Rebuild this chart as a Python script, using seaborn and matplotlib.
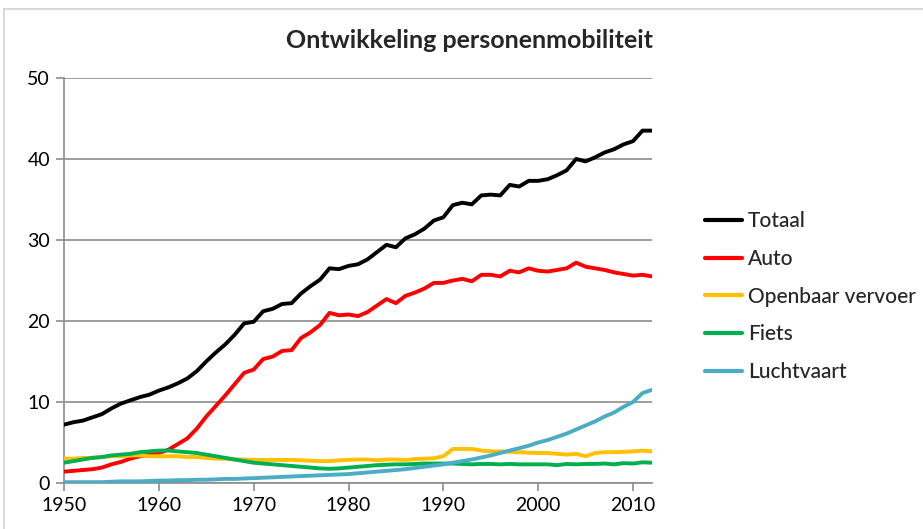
import seaborn as sns
import matplotlib.pyplot as plt
import matplotlib.patches as patches
import numpy as np
import pandas as pd

years = list(range(1950, 2013))

totaal = [7.2, 7.5, 7.7, 8.1, 8.5, 9.2, 9.8, 10.2, 10.6, 10.9,
          11.4, 11.8, 12.3, 12.9, 13.8, 15.0, 16.1, 17.1, 18.3, 19.7,
          19.9, 21.2, 21.5, 22.1, 22.2, 23.4, 24.3, 25.1, 26.5, 26.4,
          26.8, 27.0, 27.6, 28.5, 29.4, 29.1, 30.2, 30.7, 31.4, 32.4,
          32.8, 34.3, 34.6, 34.4, 35.5, 35.6, 35.5, 36.8, 36.6, 37.3,
          37.3, 37.5, 38.0, 38.6, 40.0, 39.7, 40.2, 40.8, 41.2, 41.8,
          42.2, 43.5, 43.5]

auto = [1.4, 1.5, 1.6, 1.7, 1.9, 2.3, 2.6, 3.0, 3.3, 3.5,
        3.7, 4.1, 4.8, 5.5, 6.7, 8.2, 9.5, 10.8, 12.2, 13.6,
        14.0, 15.3, 15.6, 16.3, 16.4, 17.9, 18.6, 19.5, 21.0, 20.7,
        20.8, 20.6, 21.1, 21.9, 22.7, 22.2, 23.1, 23.5, 24.0, 24.7,
        24.7, 25.0, 25.2, 24.9, 25.7, 25.7, 25.5, 26.2, 26.0, 26.5,
        26.2, 26.1, 26.3, 26.5, 27.2, 26.7, 26.5, 26.3, 26.0, 25.8,
        25.6, 25.7, 25.5]

openbaar = [3.0, 3.0, 3.1, 3.1, 3.2, 3.3, 3.3, 3.4, 3.4, 3.3,
            3.3, 3.3, 3.3, 3.2, 3.2, 3.1, 3.0, 3.0, 2.9, 2.9,
            2.85, 2.85, 2.85, 2.85, 2.85, 2.8, 2.75, 2.7, 2.7, 2.8,
            2.85, 2.9, 2.9, 2.8, 2.9, 2.9, 2.85, 2.95, 3.0, 3.05,
            3.3, 4.2, 4.2, 4.2, 4.0, 3.9, 3.9, 3.85, 3.8, 3.75,
            3.7, 3.7, 3.6, 3.5, 3.6, 3.3, 3.7, 3.8, 3.8, 3.85,
            3.9, 4.0, 3.9]

fiets = [2.5, 2.7, 2.9, 3.1, 3.2, 3.4, 3.5, 3.6, 3.8, 3.9,
         4.0, 4.0, 3.9, 3.8, 3.7, 3.5, 3.3, 3.1, 2.9, 2.7,
         2.5, 2.4, 2.3, 2.2, 2.1, 2.0, 1.9, 1.8, 1.75, 1.8,
         1.9, 2.0, 2.1, 2.2, 2.25, 2.3, 2.3, 2.35, 2.4, 2.4,
         2.4, 2.4, 2.35, 2.3, 2.35, 2.35, 2.3, 2.35, 2.3, 2.3,
         2.3, 2.3, 2.2, 2.35, 2.3, 2.35, 2.35, 2.4, 2.3, 2.45,
         2.4, 2.55, 2.5]

luchtvaart = [0.1, 0.1, 0.1, 0.1, 0.1, 0.15, 0.2, 0.2, 0.2, 0.25,
              0.3, 0.3, 0.35, 0.35, 0.4, 0.4, 0.45, 0.5, 0.5, 0.55,
              0.6, 0.65, 0.7, 0.75, 0.8, 0.85, 0.9, 0.95, 1.0, 1.05,
              1.1, 1.2, 1.3, 1.4, 1.5, 1.6, 1.7, 1.85, 2.0, 2.15,
              2.3, 2.5, 2.7, 2.9, 3.15, 3.4, 3.7, 4.0, 4.3, 4.6,
              5.0, 5.3, 5.7, 6.1, 6.6, 7.1, 7.6, 8.2, 8.7, 9.4,
              10.0, 11.1, 11.5]

series = ["Totaal", "Auto", "Openbaar vervoer", "Fiets", "Luchtvaart"]
colors = ["#000000", "#ff0000", "#ffc000", "#00b050", "#4bacc6"]

df = pd.DataFrame({
    "jaar": years * 5,
    "waarde": totaal + auto + openbaar + fiets + luchtvaart,
    "soort": sum([[s] * len(years) for s in series], []),
})

sns.set_style("white")
plt.rcParams['font.family'] = ['Lato', 'DejaVu Sans']

fig = plt.figure(figsize=(9.23, 5.29), dpi=100)
ax = fig.add_axes([0.0693, 0.087, 0.6371, 0.7656])

sns.lineplot(data=df, x="jaar", y="waarde", hue="soort", hue_order=series,
             palette=colors, linewidth=2.8, ax=ax, zorder=3)

ax.set_xlim(1950, 2012)
ax.set_ylim(0, 50)
ax.set_xticks(range(1950, 2011, 10))
ax.set_yticks(range(0, 51, 10))
ax.yaxis.grid(True, color="#8c8c8c", linewidth=1.2)
ax.set_xlabel("")
ax.set_ylabel("")
for side in ["top", "right"]:
    ax.spines[side].set_visible(False)
for side in ["left", "bottom"]:
    ax.spines[side].set_color("#8c8c8c")
    ax.spines[side].set_linewidth(1.2)
ax.tick_params(axis="both", direction="out", length=6, width=1.2,
               color="#8c8c8c", labelsize=14, labelcolor="#000000", pad=4)
ax.tick_params(axis="x", bottom=True)
ax.tick_params(axis="y", left=True)

leg = ax.legend(loc="center left", bbox_to_anchor=(1.09, 0.46), frameon=False,
                prop={"size": 15, "weight": "medium"}, handlelength=1.8,
                handletextpad=0.25, labelspacing=0.85, borderaxespad=0,
                borderpad=0)
for line in leg.get_lines():
    line.set_linewidth(3)

fig.text(0.509, 0.924, "Ontwikkeling personenmobiliteit", ha="center",
         va="center", fontsize=18, fontweight="bold")

fig.patches.append(patches.Rectangle((0.004, -0.01), 1.0, 0.993,
                                     transform=fig.transFigure, fill=False,
                                     edgecolor="#d9d9d9", linewidth=1.5))

fig.savefig("out.png", dpi=100)
